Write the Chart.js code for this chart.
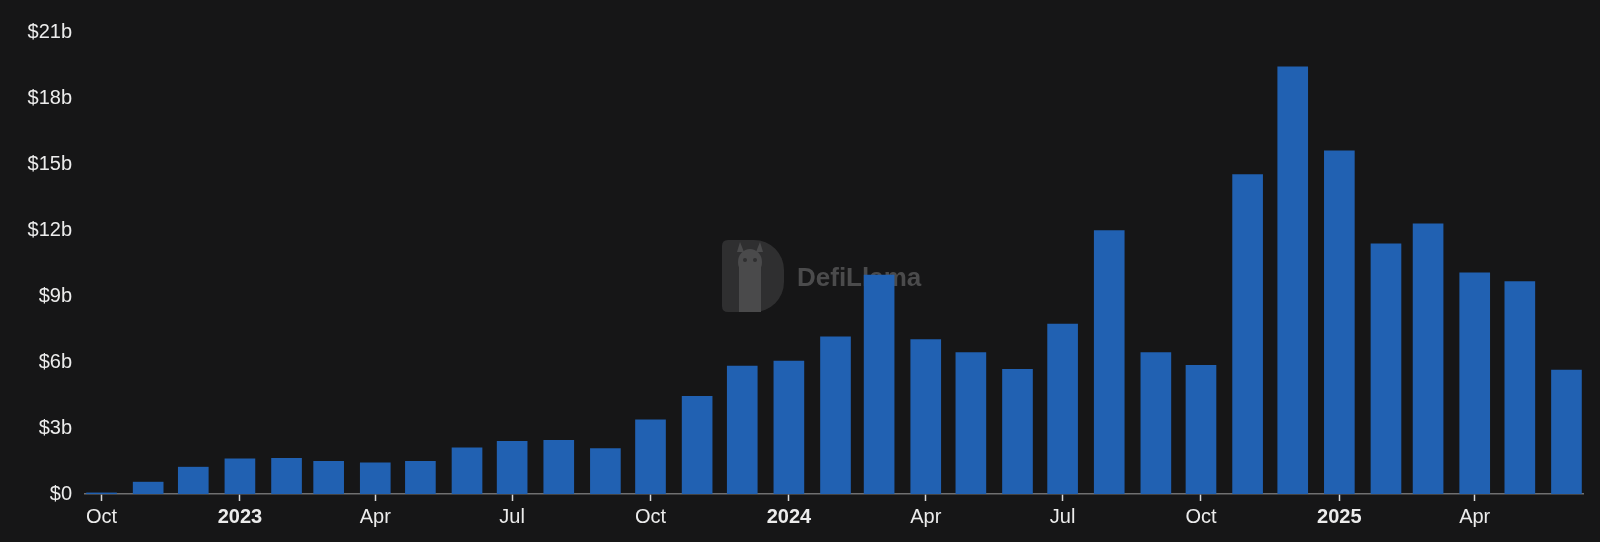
<!DOCTYPE html>
<html>
<head>
<meta charset="utf-8">
<script src="https://cdn.jsdelivr.net/npm/chart.js@4.4.1/dist/chart.umd.min.js"></script>
<style>
  html, body { margin: 0; padding: 0; background: #161617; }
  #wrap { width: 1600px; height: 542px; }
</style>
</head>
<body>
<div id="wrap"><canvas id="volChart" width="1600" height="542"></canvas></div>
<script>
// monthly volume, in billions of USD
const months = [
    "2022-10", "2022-11", "2022-12",
    "2023-01", "2023-02", "2023-03", "2023-04", "2023-05", "2023-06",
    "2023-07", "2023-08", "2023-09", "2023-10", "2023-11", "2023-12",
    "2024-01", "2024-02", "2024-03", "2024-04", "2024-05", "2024-06",
    "2024-07", "2024-08", "2024-09", "2024-10", "2024-11", "2024-12",
    "2025-01", "2025-02", "2025-03", "2025-04", "2025-05", "2025-06"
];
const volumes = [
    0.05, 0.54, 1.22,
    1.60, 1.62, 1.49, 1.42, 1.48, 2.10,
    2.39, 2.44, 2.06, 3.37, 4.44, 5.82,
    6.04, 7.14, 9.95, 7.02, 6.43, 5.67,
    7.72, 11.97, 6.43, 5.85, 14.52, 19.42,
    15.60, 11.37, 12.28, 10.05, 9.65, 5.63
];
const tickMonths = ["2022-10", "2023-01", "2023-04", "2023-07", "2023-10", "2024-01",
                    "2024-04", "2024-07", "2024-10", "2025-01", "2025-04"];
const tickLabels = ["Oct", "2023", "Apr", "Jul", "Oct", "2024", "Apr", "Jul", "Oct", "2025", "Apr"];
const yTicks = [0, 3, 6, 9, 12, 15, 18, 21];

// days since the first month, so the x axis follows real dates
function dayOf(m) {
    const [y, mo] = m.split("-").map(Number);
    return (Date.UTC(y, mo - 1, 1) - Date.UTC(2022, 9, 1)) / 86400000;
}

const FONT = "Helvetica, Arial, 'Liberation Sans', sans-serif";

// faint DefiLlama watermark behind the bars
const watermark = {
    id: "watermark",
    beforeDatasetsDraw(chart) {
        const c = chart.ctx;
        c.save();
        // logo: D-shaped badge
        const x = 722, y = 240, w = 62, h = 72;
        c.fillStyle = "#2f2f30";
        c.beginPath();
        c.moveTo(x + 6, y);
        c.lineTo(x + w - 30, y);
        c.arc(x + w - 30, y + 30, 30, -Math.PI / 2, 0);
        c.lineTo(x + w, y + h - 30);
        c.arc(x + w - 30, y + h - 30, 30, 0, Math.PI / 2);
        c.lineTo(x + 6, y + h);
        c.quadraticCurveTo(x, y + h, x, y + h - 6);
        c.lineTo(x, y + 6);
        c.quadraticCurveTo(x, y, x + 6, y);
        c.fill();
        // llama head
        c.fillStyle = "#4a4a4b";
        c.beginPath();
        c.ellipse(x + 28, y + 22, 12, 13, 0, 0, Math.PI * 2);
        c.fill();
        c.fillRect(x + 17, y + 26, 22, h - 26);
        c.beginPath();
        c.moveTo(x + 15, y + 12); c.lineTo(x + 18, y + 2); c.lineTo(x + 22, y + 12); c.fill();
        c.beginPath();
        c.moveTo(x + 34, y + 12); c.lineTo(x + 38, y + 2); c.lineTo(x + 41, y + 12); c.fill();
        c.fillStyle = "#2f2f30";
        c.beginPath(); c.arc(x + 23, y + 20, 2, 0, Math.PI * 2); c.fill();
        c.beginPath(); c.arc(x + 33, y + 20, 2, 0, Math.PI * 2); c.fill();
        // name
        c.fillStyle = "#4b4b4c";
        c.font = "bold 26px " + FONT;
        c.textBaseline = "middle";
        c.fillText("DefiLlama", 797, 279);
        c.restore();
    }
};

const ctx = document.getElementById("volChart").getContext("2d");

new Chart(ctx, {
    type: "bar",
    data: {
        datasets: [{
            label: "Volume",
            data: months.map((m, i) => ({ x: dayOf(m), y: volumes[i] })),
            backgroundColor: "#2161b2",
            borderWidth: 0,
            barThickness: 30
        }]
    },
    options: {
        responsive: false,
        animation: false,
        layout: { padding: { top: 32, right: 17, left: 0, bottom: 0 } },
        plugins: {
            legend: { display: false },
            tooltip: { enabled: false }
        },
        scales: {
            x: {
                type: "linear",
                offset: false,
                min: -11,
                max: dayOf(months[months.length - 1]) + 11,
                afterBuildTicks: (s) => {
                    s.ticks = tickMonths.map(m => ({ value: dayOf(m) }));
                },
                afterFit: (s) => { s.height = 48; },
                grid: {
                    display: true,
                    offset: false,
                    drawOnChartArea: false,
                    drawTicks: true,
                    tickLength: 7,
                    tickColor: "#d8d8d8",
                    tickWidth: 1.5
                },
                border: { display: true, color: "#6f6f70", width: 1.5 },
                ticks: {
                    autoSkip: false,
                    maxRotation: 0,
                    padding: 4,
                    color: "#ececec",
                    font: (c) => ({
                        family: FONT,
                        size: 20,
                        weight: /^\d{4}$/.test(tickLabels[c.index] || "") ? "bold" : "normal"
                    }),
                    callback: (v, i) => tickLabels[i]
                }
            },
            y: {
                min: 0,
                max: 21,
                afterBuildTicks: (s) => {
                    s.ticks = yTicks.map(v => ({ value: v }));
                },
                afterFit: (s) => { s.width = 85; },
                grid: { display: false, drawTicks: false },
                border: { display: false },
                ticks: {
                    padding: 13,
                    color: "#ececec",
                    font: { family: FONT, size: 20 },
                    callback: (v) => v === 0 ? "$0" : "$" + v + "b"
                }
            }
        }
    },
    plugins: [watermark]
});
</script>
</body>
</html>
